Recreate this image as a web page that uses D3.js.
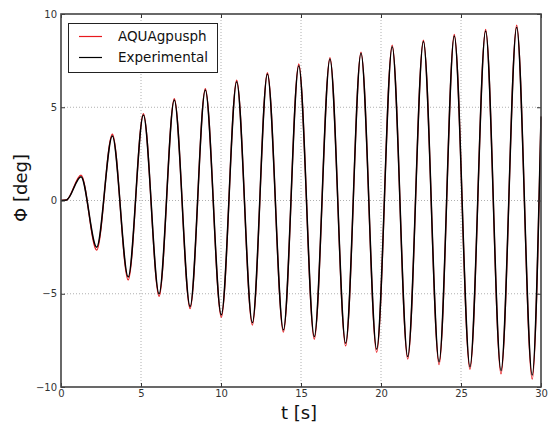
<!DOCTYPE html>
<html>
<head>
<meta charset="utf-8">
<script src="https://cdn.jsdelivr.net/npm/d3@7"></script>
<style>
html,body{margin:0;padding:0;background:#fff;}
svg{display:block;font-family:"DejaVu Sans",sans-serif;}
</style>
</head>
<body>
<svg id="chart" width="548" height="423"></svg>
<script>
// Extrema: [time (s), roll angle (deg)]
const experimental = [
  [0,0],[0.35,0.03],[1.25,1.28],[2.23,-2.5],[3.21,3.46],[4.2,-4.1],[5.15,4.58],
  [6.13,-5.0],[7.08,5.39],[8.07,-5.69],[9.02,5.92],[10.02,-6.14],[10.98,6.37],
  [11.96,-6.55],[12.9,6.78],[13.9,-6.94],[14.86,7.23],[15.83,-7.3],[16.81,7.59],
  [17.79,-7.66],[18.75,7.89],[19.73,-7.98],[20.7,8.25],[21.67,-8.37],[22.65,8.52],
  [23.63,-8.64],[24.58,8.82],[25.56,-8.91],[26.54,9.09],[27.5,-9.12],[28.48,9.29],
  [29.45,-9.36],[30,4.5]
];
const aquagpusph = [
  [0,0],[0.35,0.03],[1.25,1.36],[2.23,-2.66],[3.21,3.56],[4.2,-4.26],[5.15,4.66],
  [6.13,-5.14],[7.08,5.46],[8.07,-5.8],[9.02,6.0],[10.02,-6.26],[10.98,6.45],
  [11.96,-6.68],[12.9,6.85],[13.9,-7.06],[14.86,7.32],[15.83,-7.44],[16.81,7.66],
  [17.79,-7.8],[18.75,7.96],[19.73,-8.14],[20.7,8.33],[21.67,-8.5],[22.65,8.6],
  [23.63,-8.8],[24.58,8.9],[25.56,-9.06],[26.54,9.17],[27.5,-9.3],[28.48,9.4],
  [29.45,-9.58],[30,4.5]
];
const xTicks = [0,5,10,15,20,25,30];
const yTicks = [-10,-5,0,5,10];
const seriesNames = ["AQUAgpusph","Experimental"];
const seriesColors = ["#e8191e","#000000"];

const svg = d3.select("#chart");
const L = 61, R = 541, T = 14, B = 387;
const x = d3.scaleLinear().domain([0,30]).range([L,R]);
const y = d3.scaleLinear().domain([-10,10]).range([B,T]);

// grid
const grid = svg.append("g");
grid.selectAll("line.vx").data(xTicks.filter(d=>d>0&&d<30)).join("line")
  .attr("x1",d=>x(d)).attr("x2",d=>x(d)).attr("y1",T).attr("y2",B)
  .attr("stroke","#b0b0b0").attr("stroke-width",1).attr("stroke-dasharray","1,2");
grid.selectAll("line.hy").data(yTicks.filter(d=>d>-10&&d<10)).join("line")
  .attr("y1",d=>y(d)).attr("y2",d=>y(d)).attr("x1",L).attr("x2",R)
  .attr("stroke","#b0b0b0").attr("stroke-width",1).attr("stroke-dasharray","1,2");

// lines
const line = d3.line().x(d=>x(d[0])).y(d=>y(d[1])).curve(d3.curveMonotoneX);
const plot = svg.append("g");
plot.append("path").datum(aquagpusph).attr("d",line)
  .attr("fill","none").attr("stroke",seriesColors[0]).attr("stroke-width",1.3);
plot.append("path").datum(experimental).attr("d",line)
  .attr("fill","none").attr("stroke",seriesColors[1]).attr("stroke-width",1.5);

// axes (inward ticks, matplotlib style)
const tickLen = 4;
const xb = svg.append("g").attr("transform",`translate(0,${B})`)
  .call(d3.axisBottom(x).tickValues(xTicks).tickSizeInner(-tickLen).tickSizeOuter(0).tickPadding(3).tickFormat(d3.format("d")));
const xt = svg.append("g").attr("transform",`translate(0,${T})`)
  .call(d3.axisTop(x).tickValues(xTicks).tickSizeInner(-tickLen).tickSizeOuter(0).tickFormat(""));
const yl = svg.append("g").attr("transform",`translate(${L},0)`)
  .call(d3.axisLeft(y).tickValues(yTicks).tickSizeInner(-tickLen).tickSizeOuter(0).tickPadding(4)
    .tickFormat(d=>d<0?"\u2212"+Math.abs(d):String(d)));
const yr = svg.append("g").attr("transform",`translate(${R},0)`)
  .call(d3.axisRight(y).tickValues(yTicks).tickSizeInner(-tickLen).tickSizeOuter(0).tickFormat(""));
[xb,xt,yl,yr].forEach(g=>{
  g.select(".domain").remove();
  g.selectAll(".tick line").attr("stroke","#333").attr("stroke-width",1);
  g.selectAll(".tick text").attr("fill","#333").style("font-size","10px").style("font-family","DejaVu Sans");
});
xb.selectAll(".tick text").attr("dy","0.71em");

// frame
svg.append("rect").attr("x",L).attr("y",T).attr("width",R-L).attr("height",B-T)
  .attr("fill","none").attr("stroke","#444").attr("stroke-width",1.6);

// axis labels
svg.append("text").attr("x",299).attr("y",419).attr("text-anchor","middle")
  .style("font-size","18px").attr("fill","#111").text("t [s]");
svg.append("text").attr("transform",`translate(27,${188}) rotate(-90)`).attr("text-anchor","middle")
  .style("font-size","18px").attr("fill","#111").text("\u03A6 [deg]");

// legend
const lg = svg.append("g");
lg.append("rect").attr("x",68.5).attr("y",23.5).attr("width",149).attr("height",49)
  .attr("fill","#fff").attr("stroke","#222").attr("stroke-width",1);
seriesNames.forEach((n,i)=>{
  const yy = 36.5 + i*21;
  lg.append("line").attr("x1",79).attr("x2",102).attr("y1",yy).attr("y2",yy)
    .attr("stroke",seriesColors[i]).attr("stroke-width",1.2);
  lg.append("text").attr("x",118).attr("y",yy).attr("dy","0.35em")
    .style("font-size","13.5px").attr("fill","#111").text(n);
});
</script>
</body>
</html>
